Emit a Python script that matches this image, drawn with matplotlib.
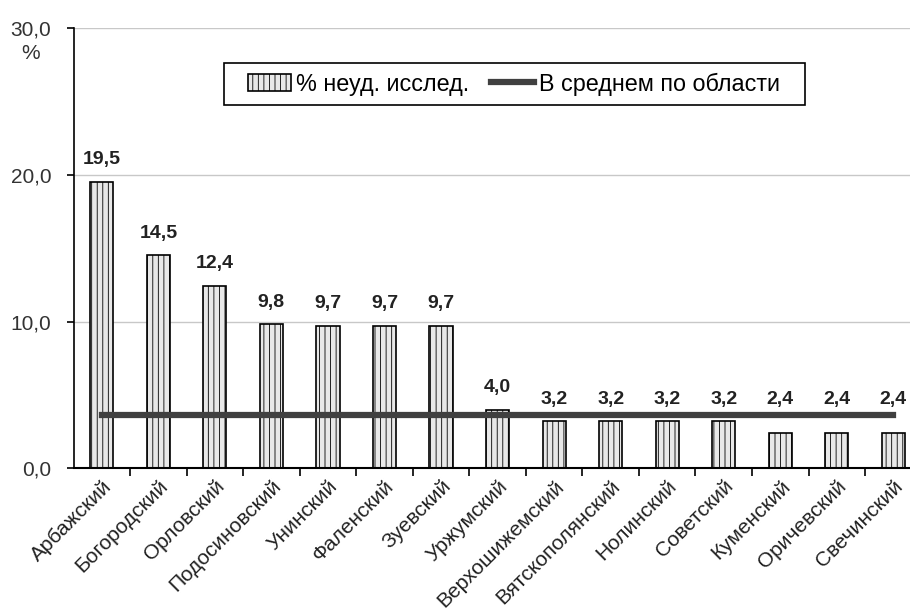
import numpy as np
import matplotlib
matplotlib.use("Agg")
import matplotlib.pyplot as plt
from matplotlib.patches import Rectangle
from matplotlib.ticker import FixedLocator, FuncFormatter

plt.rcParams['font.family'] = ['Liberation Sans', 'DejaVu Sans']
plt.rcParams['hatch.color'] = '#c4c4c4'
plt.rcParams['hatch.linewidth'] = 0.6

# районы и доля неудовлетворительных исследований, %
districts = ['Арбажский', 'Богородский', 'Орловский', 'Подосиновский', 'Унинский',
             'Фаленский', 'Зуевский', 'Уржумский', 'Верхошижемский', 'Вятскополянский',
             'Нолинский', 'Советский', 'Куменский', 'Оричевский', 'Свечинский']
values = [19.5, 14.5, 12.4, 9.8, 9.7, 9.7, 9.7, 4.0, 3.2, 3.2, 3.2, 3.2, 2.4, 2.4, 2.4]
region_avg = 3.6

bar_label = '% неуд. исслед.'
avg_label = 'В среднем по области'

W, H = 910, 612
fig = plt.figure(figsize=(W / 100, H / 100), dpi=100)
ax = fig.add_axes([0.0808, 0.235, 0.932, 0.719])

x = np.arange(len(districts))
bars = ax.bar(x, values, width=0.41, color='#e8e8e8', edgecolor='black',
              linewidth=1.2, hatch='|||', label=bar_label, zorder=2)
avg_line, = ax.plot(x, [region_avg] * len(x), color='#404040', lw=4.5,
                    solid_capstyle='projecting', label=avg_label, zorder=3)

# подписи значений; у низких столбцов подпись поднята над линией среднего
for xi, v in zip(x, values):
    if v >= region_avg:
        base, off = v, 10
    else:
        base, off = region_avg, 5
    ax.annotate(f'{v:.1f}'.replace('.', ','), (xi, base), xytext=(0, off),
                textcoords='offset points', ha='center', va='bottom',
                fontsize=14, fontweight='bold', color='#222222', zorder=4)

ax.set_xlim(-0.5, len(districts) - 0.5)
ax.set_ylim(0, 30)
ax.yaxis.set_major_locator(FixedLocator([0, 10, 20, 30]))
ax.yaxis.set_major_formatter(FuncFormatter(lambda v, p: f'{v:.1f}'.replace('.', ',')))
ax.tick_params(axis='y', direction='out', length=5, width=1.2, pad=11,
               labelsize=15, labelcolor='#333333')
ax.grid(axis='y', color='#c8c8c8', lw=1.0, zorder=0)

ax.set_xticks(x)
ax.set_xticklabels(districts, rotation=45, ha='right', rotation_mode='anchor',
                   fontsize=15, color='#222222')
ax.tick_params(axis='x', which='major', length=0, pad=6)
ax.xaxis.set_minor_locator(FixedLocator(np.arange(0.5, len(districts) - 0.5, 1)))
ax.tick_params(axis='x', which='minor', direction='out', length=6, width=1.2)

for side in ('top', 'right'):
    ax.spines[side].set_visible(False)
ax.spines['left'].set_linewidth(1.2)
ax.spines['bottom'].set_linewidth(1.5)

fig.text(0.034, 0.913, '%', ha='center', va='center', fontsize=15, color='#333333')

# легенда без своей рамки, рамка рисуется отдельно
leg = fig.legend([bars, avg_line], [bar_label, avg_label],
                 loc='center left', bbox_to_anchor=(248 / W, 1 - 84 / H), ncol=2,
                 fontsize=16.8, frameon=False, handlelength=1.85,
                 handletextpad=0.2, columnspacing=0.95,
                 borderpad=0, borderaxespad=0)
fig.add_artist(Rectangle((224 / W, 1 - 105 / H), (805 - 224) / W, 42 / H,
                         transform=fig.transFigure, fill=False,
                         edgecolor='black', lw=1.2))

fig.savefig('out.png', dpi=100)
